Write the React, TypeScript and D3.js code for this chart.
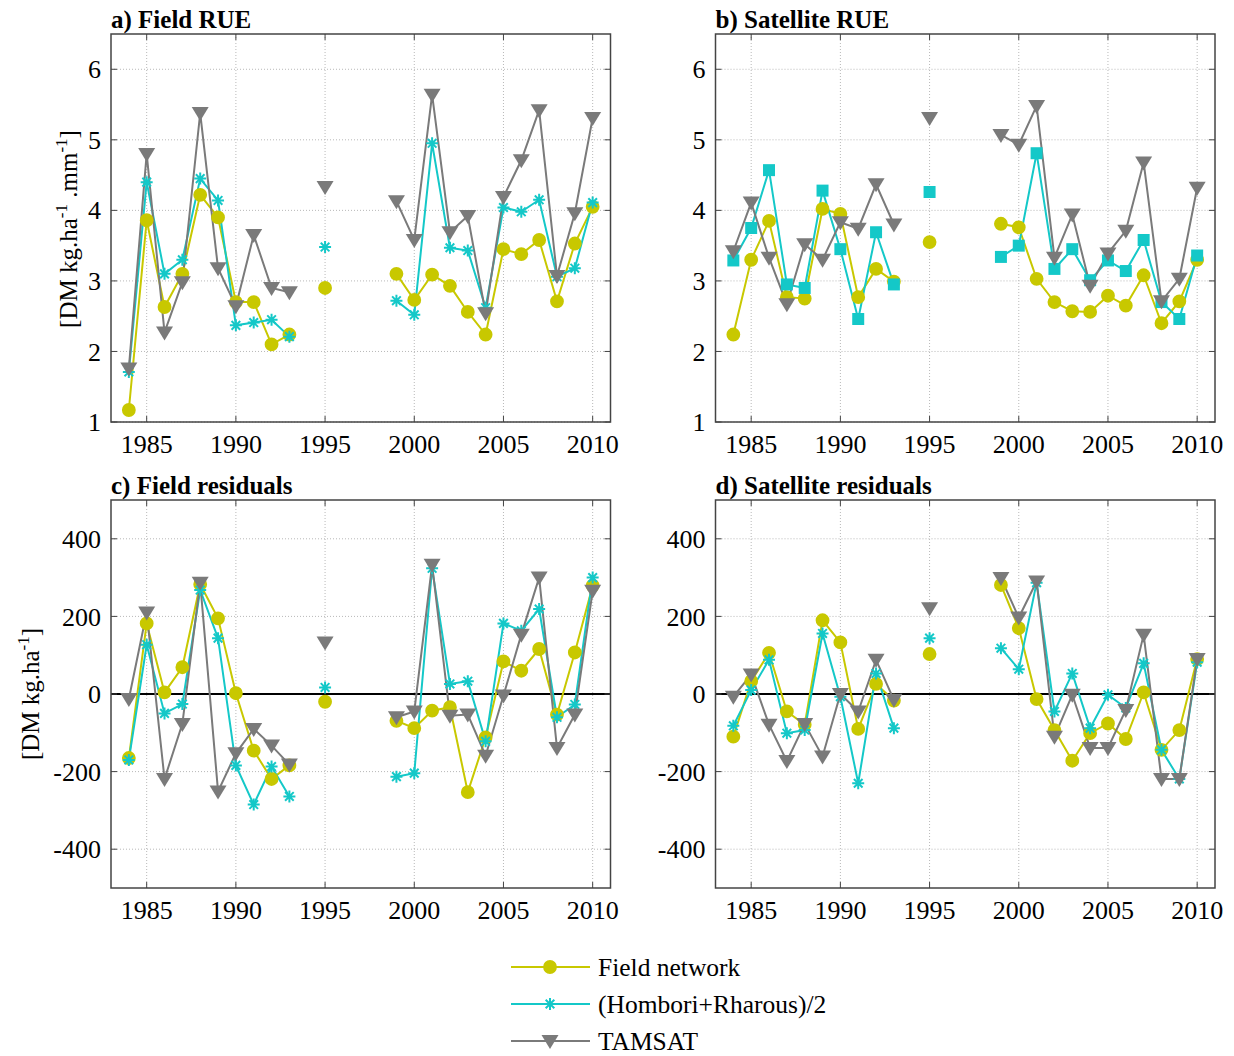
import { useEffect, useRef } from 'react'
import * as d3 from 'd3'

// years with data (gaps: 1994, 1996-1998)
const YEARS = [1984, 1985, 1986, 1987, 1988, 1989, 1990, 1991, 1992, 1993, 1995,
  1999, 2000, 2001, 2002, 2003, 2004, 2005, 2006, 2007, 2008, 2009, 2010]
const YEAR_TICKS = [1985, 1990, 1995, 2000, 2005, 2010]
const RUE_TICKS = [1, 2, 3, 4, 5, 6]
const RES_TICKS = [-400, -200, 0, 200, 400]

// a) Field RUE
const fieldRueNetwork = [1.17, 3.86, 2.63, 3.10, 4.22, 3.90, 2.70, 2.70, 2.10, 2.24, 2.90,
  3.10, 2.73, 3.09, 2.93, 2.56, 2.24, 3.45, 3.38, 3.58, 2.71, 3.53, 4.05]
const fieldRueHR = [1.71, 4.40, 3.10, 3.30, 4.45, 4.14, 2.37, 2.41, 2.45, 2.21, 3.48,
  2.72, 2.52, 4.95, 3.47, 3.43, 2.62, 4.04, 3.98, 4.15, 3.06, 3.18, 4.11]
const fieldRueTamsat = [1.76, 4.80, 2.27, 2.98, 5.38, 3.18, 2.64, 3.65, 2.90, 2.84, 4.33,
  4.13, 3.58, 5.64, 3.69, 3.92, 2.54, 4.19, 4.71, 5.42, 3.07, 3.96, 5.31]

// b) Satellite RUE
const satRueNetwork = [2.24, 3.30, 3.85, 2.77, 2.75, 4.02, 3.95, 2.77, 3.17, 2.99, 3.55,
  3.81, 3.76, 3.03, 2.70, 2.57, 2.56, 2.79, 2.65, 3.08, 2.40, 2.71, 3.30]
const satRueHR = [3.29, 3.75, 4.57, 2.95, 2.90, 4.28, 3.45, 2.46, 3.69, 2.95, 4.26,
  3.34, 3.50, 4.81, 3.17, 3.45, 3.01, 3.29, 3.14, 3.58, 2.70, 2.46, 3.36]
const satRueTamsat = [3.42, 4.11, 3.33, 2.67, 3.52, 3.30, 3.83, 3.74, 4.37, 3.80, 5.31,
  5.07, 4.93, 5.48, 3.33, 3.94, 2.93, 3.39, 3.71, 4.68, 2.71, 3.03, 4.32]

// c) Field residuals
const fieldResNetwork = [-165, 182, 4, 69, 283, 195, 2, -146, -219, -184, -20,
  -69, -88, -43, -34, -253, -112, 84, 60, 116, -53, 107, 279]
const fieldResHR = [-170, 127, -50, -26, 268, 144, -184, -285, -187, -264, 17,
  -213, -204, 324, 26, 33, -122, 182, 163, 219, -60, -27, 300]
const fieldResTamsat = [-13, 210, -219, -77, 287, -251, -153, -90, -133, -182, 133,
  -60, -45, 333, -56, -53, -159, -4, 153, 300, -139, -53, 266]

// d) Satellite residuals
const satResNetwork = [-110, 33, 106, -45, -79, 190, 133, -90, 26, -17, 103,
  281, 170, -13, -93, -172, -101, -76, -116, 4, -144, -93, 90]
const satResHR = [-82, 10, 88, -101, -93, 156, -7, -230, 53, -88, 144,
  118, 64, 287, -45, 53, -88, -2, -36, 79, -144, -219, 82]
const satResTamsat = [-7, 50, -79, -173, -77, -161, 0, -45, 88, -15, 221,
  299, 197, 290, -110, -2, -139, -139, -41, 153, -219, -219, 90]

const YELLOW = '#c8c800'
const CYAN = '#14c8c8'
const GRAY = '#7a7a7a'
const FONT = '"Liberation Serif", "DejaVu Serif", serif'

type Marker = 'circle' | 'star' | 'square' | 'tri'

const markerPath = (m: Marker) => {
  switch (m) {
    case 'circle': return d3.symbol(d3.symbolCircle, 150)()
    case 'square': return 'M-6,-6H6V6H-6Z'
    case 'tri': return 'M-8.5,-6L8.5,-6L0,8Z'
    case 'star': {
      const r = 6, q = r * 0.72
      return `M0,${-r}V${r}M${-r},0H${r}M${-q},${-q}L${q},${q}M${-q},${q}L${q},${-q}`
    }
  }
}

const drawMarker = (g: any, m: Marker, color: string, x: number, y: number) => {
  const p = g.append('path')
    .attr('d', markerPath(m))
    .attr('transform', `translate(${x},${y})`)
  if (m === 'star') p.attr('fill', 'none').attr('stroke', color).attr('stroke-width', 2)
  else p.attr('fill', color).attr('stroke', 'none')
}

// split the series where years are not consecutive
const segments = (vals: number[]) => {
  const out: [number, number][][] = []
  let cur: [number, number][] = []
  YEARS.forEach((yr, i) => {
    if (i > 0 && yr - YEARS[i - 1] > 1) { out.push(cur); cur = [] }
    cur.push([yr, vals[i]])
  })
  out.push(cur)
  return out
}

interface PanelDef {
  title: string
  left: number
  top: number
  domain: [number, number]
  ticks: number[]
  series: { vals: number[]; color: string; marker: Marker }[]
  zeroLine?: boolean
}

export default function App() {
  const svgRef = useRef<SVGSVGElement>(null)

  useEffect(() => {
    if (!svgRef.current) return
    const svg = d3.select(svgRef.current)
    svg.selectAll('*').remove()

    const W = 499.5
    const H = 388

    const panels: PanelDef[] = [
      { title: 'a) Field RUE', left: 111, top: 34, domain: [1, 6.5], ticks: RUE_TICKS,
        series: [
          { vals: fieldRueNetwork, color: YELLOW, marker: 'circle' },
          { vals: fieldRueHR, color: CYAN, marker: 'star' },
          { vals: fieldRueTamsat, color: GRAY, marker: 'tri' }] },
      { title: 'b) Satellite RUE', left: 715.5, top: 34, domain: [1, 6.5], ticks: RUE_TICKS,
        series: [
          { vals: satRueNetwork, color: YELLOW, marker: 'circle' },
          { vals: satRueHR, color: CYAN, marker: 'square' },
          { vals: satRueTamsat, color: GRAY, marker: 'tri' }] },
      { title: 'c) Field residuals', left: 111, top: 500, domain: [-500, 500], ticks: RES_TICKS, zeroLine: true,
        series: [
          { vals: fieldResNetwork, color: YELLOW, marker: 'circle' },
          { vals: fieldResHR, color: CYAN, marker: 'star' },
          { vals: fieldResTamsat, color: GRAY, marker: 'tri' }] },
      { title: 'd) Satellite residuals', left: 715.5, top: 500, domain: [-500, 500], ticks: RES_TICKS, zeroLine: true,
        series: [
          { vals: satResNetwork, color: YELLOW, marker: 'circle' },
          { vals: satResHR, color: CYAN, marker: 'star' },
          { vals: satResTamsat, color: GRAY, marker: 'tri' }] },
    ]

    panels.forEach(p => {
      const g = svg.append('g').attr('transform', `translate(${p.left},${p.top})`)
      const x = d3.scaleLinear().domain([1983, 2011]).range([0, W])
      const y = d3.scaleLinear().domain(p.domain).range([H, 0])

      // dotted grid
      YEAR_TICKS.forEach(t => {
        g.append('line').attr('x1', x(t)).attr('x2', x(t)).attr('y1', 0).attr('y2', H)
          .attr('stroke', '#b8b8b8').attr('stroke-width', 1).attr('stroke-dasharray', '1,2')
      })
      p.ticks.forEach(t => {
        g.append('line').attr('x1', 0).attr('x2', W).attr('y1', y(t)).attr('y2', y(t))
          .attr('stroke', '#b8b8b8').attr('stroke-width', 1).attr('stroke-dasharray', '1,2')
      })

      if (p.zeroLine) {
        g.append('line').attr('x1', 0).attr('x2', W).attr('y1', y(0)).attr('y2', y(0))
          .attr('stroke', '#000').attr('stroke-width', 2)
      }

      // lines
      const line = d3.line<[number, number]>().x(d => x(d[0])).y(d => y(d[1]))
      p.series.forEach(s => {
        segments(s.vals).forEach(seg => {
          if (seg.length < 2) return
          g.append('path').attr('d', line(seg)).attr('fill', 'none')
            .attr('stroke', s.color).attr('stroke-width', 2)
        })
      })
      // markers
      p.series.forEach(s => {
        const mg = g.append('g')
        YEARS.forEach((yr, i) => drawMarker(mg, s.marker, s.color, x(yr), y(s.vals[i])))
      })

      // box + inward ticks
      g.append('rect').attr('width', W).attr('height', H).attr('fill', 'none')
        .attr('stroke', '#444').attr('stroke-width', 1.5)
      const tl = 6
      YEAR_TICKS.forEach(t => {
        g.append('line').attr('x1', x(t)).attr('x2', x(t)).attr('y1', H).attr('y2', H - tl).attr('stroke', '#444')
        g.append('line').attr('x1', x(t)).attr('x2', x(t)).attr('y1', 0).attr('y2', tl).attr('stroke', '#444')
        g.append('text').attr('x', x(t)).attr('y', H + 31).attr('text-anchor', 'middle')
          .attr('font-family', FONT).attr('font-size', 26).text(t)
      })
      p.ticks.forEach(t => {
        g.append('line').attr('x1', 0).attr('x2', tl).attr('y1', y(t)).attr('y2', y(t)).attr('stroke', '#444')
        g.append('line').attr('x1', W).attr('x2', W - tl).attr('y1', y(t)).attr('y2', y(t)).attr('stroke', '#444')
        g.append('text').attr('x', -10).attr('y', y(t)).attr('dy', '0.35em').attr('text-anchor', 'end')
          .attr('font-family', FONT).attr('font-size', 26).text(t)
      })

      g.append('text').attr('x', 0).attr('y', -6).attr('font-family', FONT)
        .attr('font-size', 25).attr('font-weight', 'bold').text(p.title)
    })

    // y-axis labels
    const yl1 = svg.append('text').attr('transform', 'translate(77,229) rotate(-90)')
      .attr('text-anchor', 'middle').attr('font-family', FONT).attr('font-size', 25)
    yl1.append('tspan').text('[DM kg.ha')
    yl1.append('tspan').attr('dy', -10).attr('font-size', 17).text('-1')
    yl1.append('tspan').attr('dy', 10).text(' .mm')
    yl1.append('tspan').attr('dy', -10).attr('font-size', 17).text('-1')
    yl1.append('tspan').attr('dy', 10).text(']')

    const yl2 = svg.append('text').attr('transform', 'translate(39,694) rotate(-90)')
      .attr('text-anchor', 'middle').attr('font-family', FONT).attr('font-size', 25)
    yl2.append('tspan').text('[DM kg.ha')
    yl2.append('tspan').attr('dy', -10).attr('font-size', 17).text('-1')
    yl2.append('tspan').attr('dy', 10).text(']')

    // legend
    const legend: { label: string; color: string; marker: Marker }[] = [
      { label: 'Field network', color: YELLOW, marker: 'circle' },
      { label: '(Hombori+Rharous)/2', color: CYAN, marker: 'star' },
      { label: 'TAMSAT', color: GRAY, marker: 'tri' },
    ]
    legend.forEach((l, i) => {
      const ly = 967 + i * 37
      svg.append('line').attr('x1', 511).attr('x2', 590).attr('y1', ly).attr('y2', ly)
        .attr('stroke', l.color).attr('stroke-width', 2)
      drawMarker(svg, l.marker, l.color, 550, ly)
      svg.append('text').attr('x', 598).attr('y', ly).attr('dy', '0.35em')
        .attr('font-family', FONT).attr('font-size', 25.5).text(l.label)
    })
  }, [])

  return (
    <svg ref={svgRef} width={1234} height={1056}
      style={{ position: 'absolute', left: 0, top: 0, background: '#fff' }} />
  )
}
